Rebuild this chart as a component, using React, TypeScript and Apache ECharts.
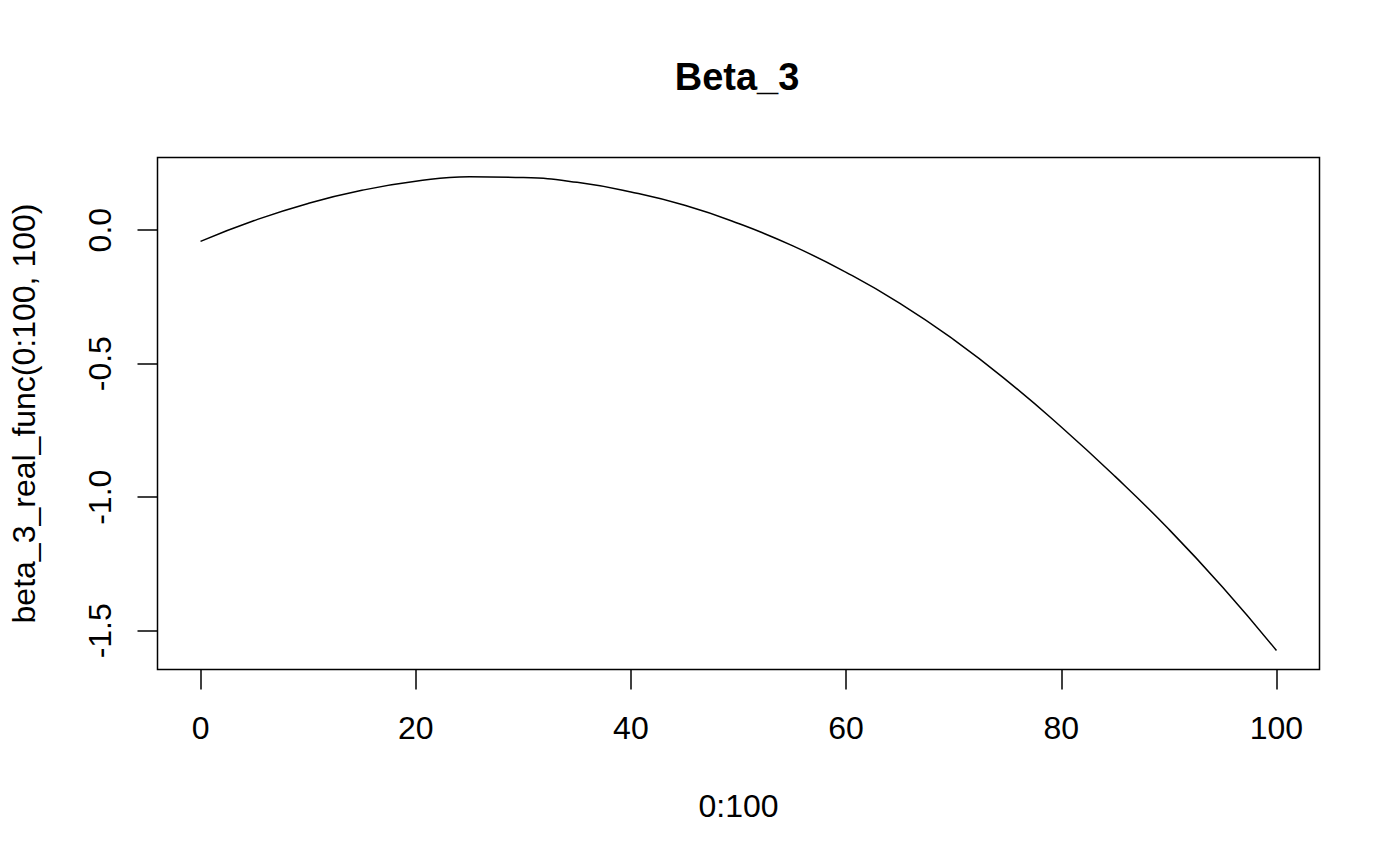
import React, { useEffect, useRef } from "react";
import * as echarts from "echarts";

const xValues = [0, 5, 10, 15, 20, 25, 30, 35, 40, 45, 50, 55, 60, 65, 70, 75, 80, 85, 90, 95, 100];
const yValues = [
  -0.042, 0.036, 0.1, 0.149, 0.183, 0.2, 0.197, 0.179, 0.143, 0.093, 0.025,
  -0.058, -0.158, -0.274, -0.41, -0.565, -0.737, -0.922, -1.12, -1.337, -1.574,
];
const xTicks = [0, 20, 40, 60, 80, 100];
const yTicks = [-1.5, -1.0, -0.5, 0.0];
const titleText = "Beta_3";
const xName = "0:100";
const yName = "beta_3_real_func(0:100, 100)";

const FONT = "'Liberation Sans', Arial, Helvetica, sans-serif";

export default function App() {
  const ref = useRef<HTMLDivElement>(null);
  useEffect(() => {
    if (!ref.current) return;
    const chart = echarts.init(ref.current, null, { renderer: "svg" });
    chart.setOption({
      animation: false,
      backgroundColor: "#ffffff",
      textStyle: { fontFamily: FONT, color: "#000" },
      title: {
        text: titleText,
        left: 732,
        top: 53,
        textAlign: "center",
        textStyle: { fontFamily: FONT, fontWeight: "bold", fontSize: 38, color: "#000" },
      },
      grid: {
        left: 157.5,
        right: 80.5,
        top: 157.5,
        bottom: 196.5,
        show: true,
        borderColor: "#000",
        borderWidth: 1.5,
        backgroundColor: "transparent",
        containLabel: false,
        outerBoundsMode: "none",
      },
      xAxis: {
        type: "value",
        min: -4,
        max: 104,
        name: xName,
        nameLocation: "middle",
        nameGap: 120,
        nameTextStyle: { fontFamily: FONT, fontSize: 32, color: "#000" },
        axisLine: { show: false, onZero: false },
        splitLine: { show: false },
        axisTick: {
          show: true,
          inside: false,
          length: 20,
          customValues: xTicks,
          lineStyle: { color: "#000", width: 1.5 },
        },
        axisLabel: {
          show: true,
          margin: 42,
          customValues: xTicks,
          fontFamily: FONT,
          fontSize: 32,
          color: "#000",
          formatter: (v: number) => String(v),
        },
      },
      yAxis: {
        type: "value",
        min: -1.645,
        max: 0.272,
        name: yName,
        nameLocation: "middle",
        nameGap: 118,
        nameRotate: 90,
        nameTextStyle: { fontFamily: FONT, fontSize: 32, color: "#000" },
        axisLine: { show: false, onZero: false },
        splitLine: { show: false },
        axisTick: {
          show: true,
          inside: false,
          length: 20,
          customValues: yTicks,
          lineStyle: { color: "#000", width: 1.5 },
        },
        axisLabel: {
          show: true,
          margin: 42,
          rotate: 90,
          customValues: yTicks,
          fontFamily: FONT,
          fontSize: 32,
          color: "#000",
          formatter: (v: number) => v.toFixed(1),
        },
      },
      series: [
        {
          type: "line",
          data: xValues.map((x, i) => [x, yValues[i]]),
          smooth: 0.5,
          showSymbol: false,
          lineStyle: { color: "#000", width: 1.5 },
          silent: true,
        },
      ],
    });
    return () => chart.dispose();
  }, []);
  return (
    <div
      ref={ref}
      style={{ position: "fixed", left: 0, top: 0, width: 1400, height: 866, background: "#fff" }}
    />
  );
}
